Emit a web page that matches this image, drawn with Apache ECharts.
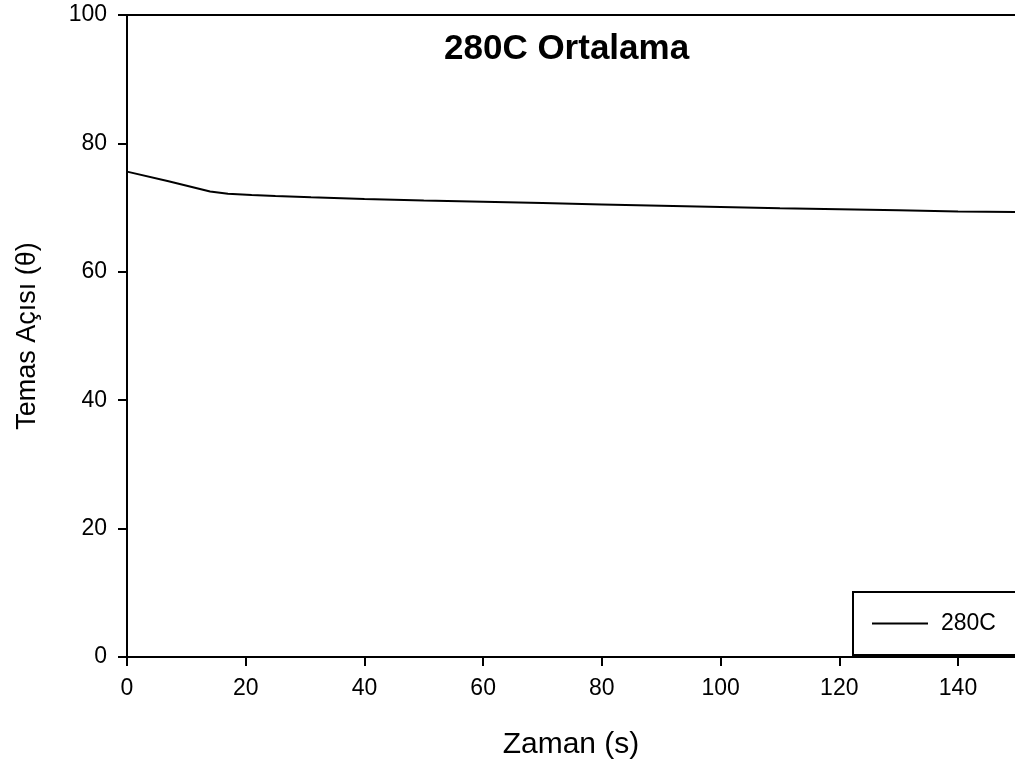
<!DOCTYPE html>
<html>
<head>
<meta charset="utf-8">
<style>
  html, body { margin: 0; padding: 0; background: #fff; }
  #chart { width: 1015px; height: 769px; }
</style>
<script src="https://cdn.jsdelivr.net/npm/echarts@6/dist/echarts.min.js"></script>
</head>
<body>
<div id="chart"></div>
<script>
// zaman (s) ve temas açısı değerleri
const zaman = [0, 7, 14, 17, 21, 25, 31, 40, 50, 60, 70, 80, 90, 100, 110, 120, 130, 140, 150];
const temasAcisi = [75.6, 74.1, 72.5, 72.15, 71.95, 71.8, 71.6, 71.35, 71.1, 70.9, 70.7, 70.5, 70.3, 70.1, 69.9, 69.75, 69.6, 69.4, 69.3];
const seriesName = '280C';

const chart = echarts.init(document.getElementById('chart'));
const font = 'Liberation Sans, Arial, sans-serif';

const option = {
    animation: false,
    textStyle: { fontFamily: font, color: '#000' },
    title: {
        text: '280C Ortalama',
        left: 439,
        top: 27,
        textStyle: { fontFamily: font, fontSize: 35, fontWeight: 'bold', color: '#000' }
    },
    legend: {
        data: [seriesName],
        left: 853,
        top: 592,
        orient: 'vertical',
        icon: 'rect',
        itemWidth: 56,
        itemHeight: 2,
        itemGap: 0,
        padding: [20, 40, 20, 19],
        borderColor: '#000',
        borderWidth: 2,
        backgroundColor: '#fff',
        textStyle: { fontFamily: font, fontSize: 23, color: '#000', padding: [0, 0, 0, 8] }
    },
    grid: {
        left: 127,
        top: 15,
        right: 0,
        bottom: 112
    },
    xAxis: [{
        type: 'value',
        min: 0,
        max: 149.6,
        interval: 20,
        name: 'Zaman (s)',
        nameLocation: 'middle',
        nameGap: 73,
        nameTextStyle: { fontFamily: font, fontSize: 30, color: '#000' },
        axisLine: { lineStyle: { color: '#000', width: 2 } },
        axisTick: { length: 9, lineStyle: { color: '#000', width: 2 } },
        axisLabel: { fontFamily: font, fontSize: 23, color: '#000', margin: 20, showMaxLabel: false },
        splitLine: { show: false }
    }, {
        // üst çerçeve çizgisi
        type: 'value',
        position: 'top',
        min: 0,
        max: 149.6,
        axisLine: { show: true, lineStyle: { color: '#000', width: 2 } },
        axisTick: { show: false },
        axisLabel: { show: false },
        splitLine: { show: false }
    }],
    yAxis: {
        type: 'value',
        min: 0,
        max: 100,
        interval: 20,
        name: 'Temas Açısı (θ)',
        nameLocation: 'middle',
        nameGap: 86,
        nameTextStyle: { fontFamily: font, fontSize: 27, color: '#000' },
        axisLine: { show: true, lineStyle: { color: '#000', width: 2 } },
        axisTick: { show: true, length: 9, lineStyle: { color: '#000', width: 2 } },
        axisLabel: { fontFamily: font, fontSize: 23, color: '#000', margin: 20 },
        splitLine: { show: false }
    },
    series: [{
        name: seriesName,
        type: 'line',
        xAxisIndex: 0,
        data: zaman.map((t, i) => [t, temasAcisi[i]]),
        showSymbol: false,
        symbol: 'none',
        color: '#000',
        lineStyle: { color: '#000', width: 2 }
    }]
};
chart.setOption(option);
</script>
</body>
</html>
